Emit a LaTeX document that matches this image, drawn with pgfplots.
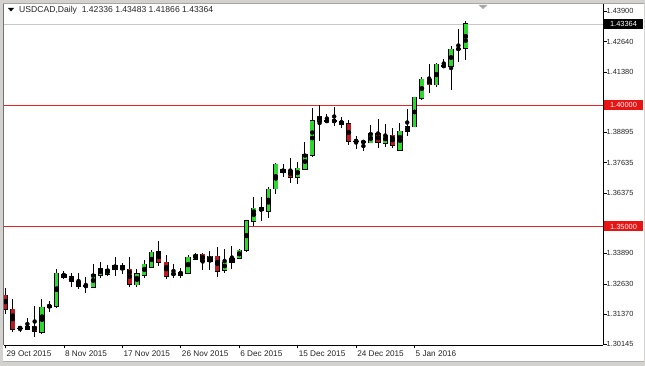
\documentclass[border=0pt]{standalone}
\usepackage{pgfplots}
\pgfplotsset{compat=1.18}
\usepackage{pgfplotstable}
\usepackage{fontspec}
\setmainfont{Liberation Sans}
\definecolor{bull}{RGB}{45,215,45}
\definecolor{bear}{RGB}{190,25,35}
\definecolor{lvl}{RGB}{232,35,35}
\definecolor{lvlbox}{RGB}{232,20,20}
\definecolor{winframe}{RGB}{212,210,206}

\pgfplotstableread{
i o h l c
0 1.32169 1.32459 1.31385 1.31591
1 1.31591 1.32004 1.30641 1.30765
2 1.30806 1.30889 1.30641 1.30806
3 1.30765 1.31219 1.30724 1.30889
4 1.30889 1.31715 1.30435 1.30682
5 1.30641 1.32004 1.30559 1.31674
6 1.31674 1.31922 1.31467 1.31756
7 1.31715 1.33243 1.31632 1.33078
8 1.33037 1.33161 1.32830 1.32913
9 1.32913 1.33078 1.32500 1.32706
10 1.32748 1.33078 1.32417 1.32541
11 1.32541 1.32913 1.32252 1.32541
12 1.32500 1.33450 1.32500 1.33037
13 1.32995 1.33532 1.32872 1.33285
14 1.33037 1.33409 1.32954 1.33243
15 1.33243 1.33739 1.32954 1.33409
16 1.33409 1.33491 1.33037 1.33243
17 1.33243 1.33739 1.32500 1.32624
18 1.32582 1.33243 1.32500 1.33037
19 1.32995 1.33615 1.32872 1.33450
20 1.33326 1.34028 1.33285 1.33946
21 1.33946 1.34400 1.33367 1.33532
22 1.33532 1.33822 1.32830 1.32954
23 1.33037 1.33450 1.32872 1.33037
24 1.32995 1.33285 1.32872 1.33119
25 1.33078 1.33822 1.33078 1.33739
26 1.33656 1.33904 1.33615 1.33863
27 1.33863 1.33904 1.33202 1.33574
28 1.33574 1.33987 1.33202 1.33780
29 1.33780 1.34152 1.32913 1.33161
30 1.33202 1.34070 1.33078 1.33532
31 1.33532 1.34193 1.33243 1.33698
32 1.33698 1.34070 1.33698 1.34028
33 1.34028 1.35267 1.33946 1.35226
34 1.35226 1.36217 1.35019 1.35763
35 1.35763 1.36217 1.35226 1.35639
36 1.35639 1.36630 1.35350 1.36548
37 1.36548 1.37622 1.36341 1.37580
38 1.37209 1.37580 1.37043 1.37374
39 1.37333 1.37828 1.36796 1.37043
40 1.37043 1.37663 1.36754 1.37415
41 1.37374 1.38489 1.37374 1.37993
42 1.37952 1.39893 1.37870 1.39357
43 1.39357 1.40017 1.38530 1.39563
44 1.39357 1.39646 1.39274 1.39357
45 1.39357 1.39935 1.39150 1.39357
46 1.39357 1.39522 1.39067 1.39233
47 1.39233 1.39398 1.38365 1.38530
48 1.38530 1.38737 1.38200 1.38530
49 1.38489 1.38530 1.38117 1.38489
50 1.38448 1.39191 1.38448 1.38820
51 1.38820 1.39439 1.38241 1.38489
52 1.38448 1.39233 1.38283 1.38778
53 1.38778 1.39067 1.38241 1.38365
54 1.38159 1.39274 1.38117 1.38943
55 1.38943 1.39852 1.38737 1.39109
56 1.39109 1.40348 1.39109 1.40348
57 1.40306 1.41174 1.40224 1.41091
58 1.41091 1.41711 1.40513 1.40844
59 1.40844 1.41752 1.40761 1.41711
60 1.41628 1.41917 1.41546 1.41628
61 1.41628 1.42454 1.40637 1.42330
62 1.42330 1.43157 1.41793 1.42330
63 1.42336 1.43483 1.41866 1.43364
}\ohlc

\pgfplotstableread{
x y
-0.2 1.35000
81.8 1.35000
}\lvllow
\pgfplotstableread{
x y
-0.2 1.40000
81.8 1.40000
}\lvlhigh

\begin{document}
\begin{tikzpicture}
\path[use as bounding box] (0pt,0pt) rectangle (645pt,366pt);
\fill[winframe] (0pt,0pt) rectangle (645pt,366pt);
\fill[white] (3pt,4pt) rectangle (643.5pt,362.5pt);
\begin{axis}[
  at={(4pt,21pt)}, anchor=south west,
  scale only axis, width=599pt, height=341.5pt,
  xmin=-0.2, xmax=81.8, ymin=1.301042, ymax=1.442098,
  axis x line*=bottom, axis y line*=right,
  axis line style={black, line width=0.8pt},
  tick align=outside, major tick length=3.5pt,
  tick style={black, line width=0.6pt},
  xtick={0,8,16,24,32,40,48,56},
  xticklabels={29 Oct 2015,8 Nov 2015,17 Nov 2015,26 Nov 2015,6 Dec 2015,15 Dec 2015,24 Dec 2015,5 Jan 2016},
  xticklabel style={anchor=north west, inner sep=0pt, xshift=1pt, yshift=-2pt, font=\fontsize{8.2}{9}\selectfont, text=black!85},
  ytick={1.30145,1.31370,1.32630,1.33890,1.35135,1.36375,1.37635,1.38895,1.40135,1.41380,1.42640,1.43900},
  yticklabels={1.30145,1.31370,1.32630,1.33890,{},1.36375,1.37635,1.38895,{},1.41380,1.42640,1.43900},
  yticklabel style={anchor=west, inner sep=0pt, font=\fontsize{7.4}{8}\selectfont, text=black!85},
  minor tick num=0,
]
% bid line
\addplot[forget plot, draw=black!22, line width=0.9pt, mark=none] coordinates {(-0.2,1.43364) (81.8,1.43364)};
% horizontal levels
\addplot[forget plot, color=lvl, line width=1.2pt, mark=none] table[x=x, y=y] {\lvllow};
\addplot[forget plot, color=lvl, line width=1.8pt, mark=none] table[x=x, y=y] {\lvlhigh};
% wicks
\addplot[forget plot, only marks, mark=none,
  error bars/.cd, y dir=both, y explicit, error mark=none,
  error bar style={draw=black, line width=1pt}]
  table[x=i, y expr={(\thisrow{h}+\thisrow{l})/2}, y error expr={(\thisrow{h}-\thisrow{l})/2}] {\ohlc};
% body outlines
\addplot[forget plot, only marks, mark=none,
  error bars/.cd, y dir=both, y explicit, error mark=none,
  error bar style={draw=black, line width=5.2pt}]
  table[x=i, y expr={(\thisrow{o}+\thisrow{c})/2}, y error expr={abs(\thisrow{o}-\thisrow{c})/2+0.000207}] {\ohlc};
% bull fills
\addplot[forget plot, only marks, mark=none,
  error bars/.cd, y dir=both, y explicit, error mark=none,
  error bar style={draw=bull, line width=3.8pt}]
  table[x=i, y expr={(\thisrow{o}+\thisrow{c})/2}, y error expr={max(0,(\thisrow{c}-\thisrow{o})/2-0.00016)}] {\ohlc};
% bear fills
\addplot[forget plot, only marks, mark=none,
  error bars/.cd, y dir=both, y explicit, error mark=none,
  error bar style={draw=bear, line width=3.8pt}]
  table[x=i, y expr={(\thisrow{o}+\thisrow{c})/2}, y error expr={max(0,(\thisrow{o}-\thisrow{c})/2-0.00016)}] {\ohlc};
\coordinate (P140) at (axis cs:81.8,1.40000);
\coordinate (P135) at (axis cs:81.8,1.35000);
\coordinate (Pbid) at (axis cs:81.8,1.43364);
\end{axis}
% frame lines
\draw[black!55, line width=1.2pt] (3.6pt,21pt) -- (3.6pt,362.5pt);
\draw[black!35, line width=0.8pt] (3pt,362.4pt) -- (643.5pt,362.4pt);
\draw[black!30, line width=0.6pt] (3pt,4.3pt) -- (643.5pt,4.3pt);
% chart shift marker
\fill[black!35] (478.5pt,361pt) -- (487.5pt,361pt) -- (483pt,357pt) -- cycle;
% price boxes
\node[anchor=west, fill=lvlbox, text=white, inner sep=0pt, minimum height=10pt, minimum width=39pt, font=\fontsize{7.4}{8}\selectfont] at ([xshift=0.8pt]P140) {1.40000};
\node[anchor=west, fill=lvlbox, text=white, inner sep=0pt, minimum height=10pt, minimum width=39pt, font=\fontsize{7.4}{8}\selectfont] at ([xshift=0.8pt]P135) {1.35000};
\node[anchor=west, fill=black, text=white, inner sep=0pt, minimum height=10pt, minimum width=39pt, font=\fontsize{7.4}{8}\selectfont] at ([xshift=0.8pt]Pbid) {1.43364};
% title
\fill[black] (8pt,358pt) -- (14pt,358pt) -- (11pt,354.5pt) -- cycle;
\node[anchor=west, inner sep=0pt, font=\fontsize{8.6}{10}\selectfont, text=black!85] at (19pt,356pt) {USDCAD,Daily\ \ 1.42336 1.43483 1.41866 1.43364};
\end{tikzpicture}
\end{document}
